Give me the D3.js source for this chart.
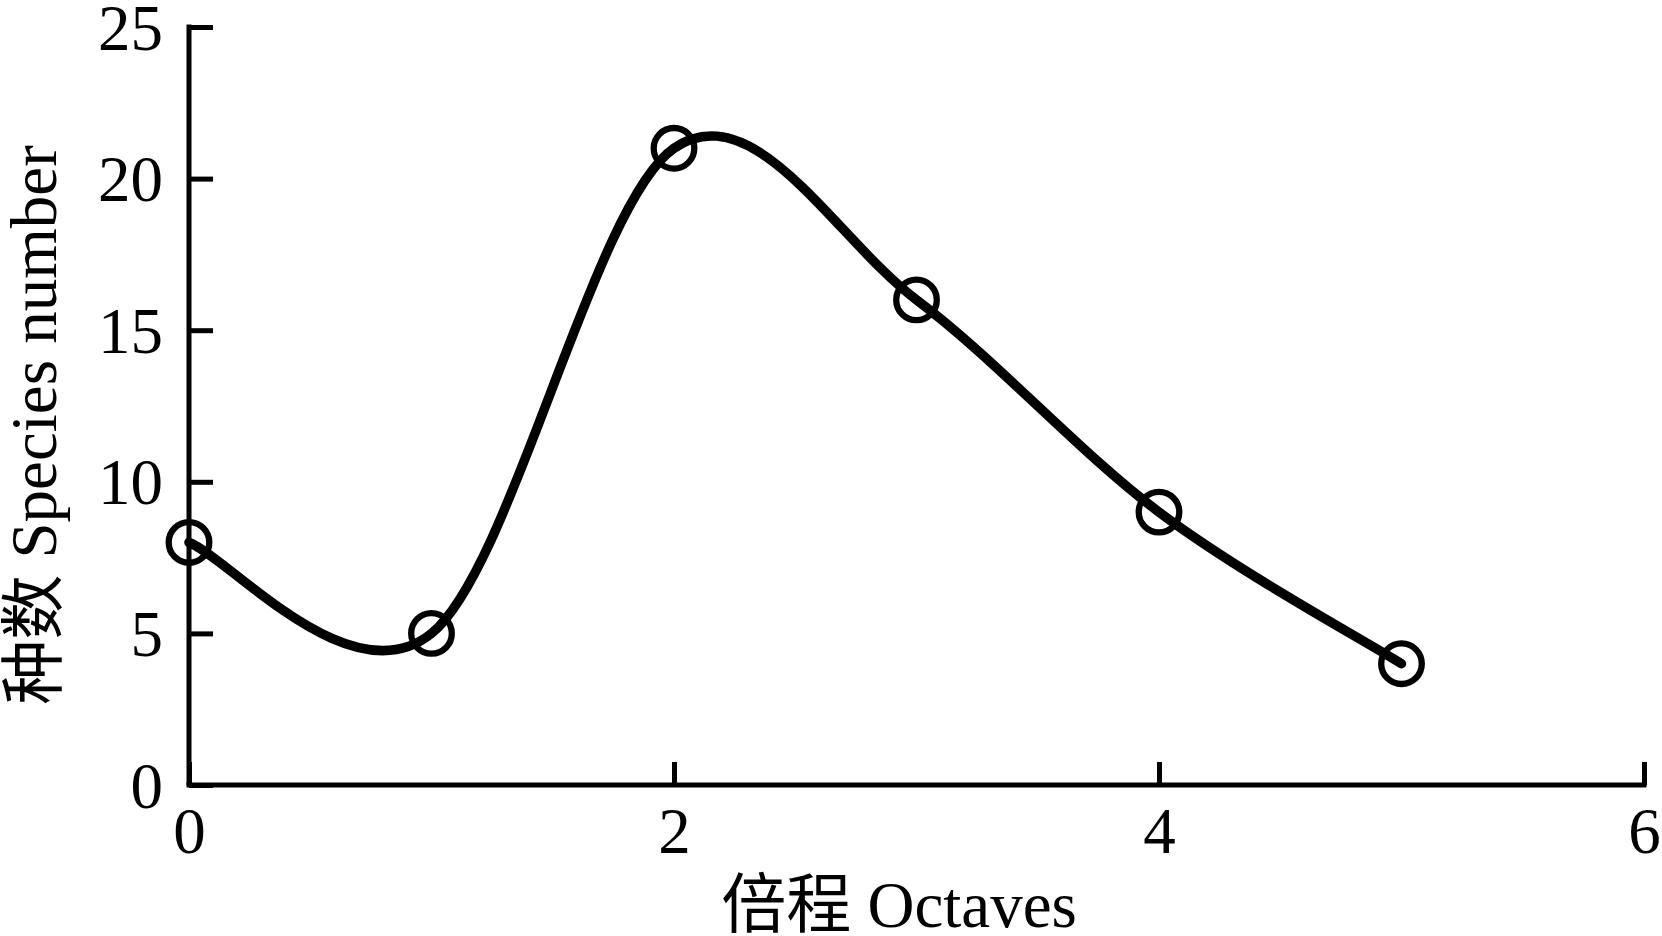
<!DOCTYPE html>
<html>
<head>
<meta charset="utf-8">
<script src="https://cdn.jsdelivr.net/npm/d3@7"></script>
<style>
  html, body { margin: 0; padding: 0; background: #fff; }
  svg { display: block; }
  text { font-family: "Liberation Serif", "Times New Roman", "Noto Sans CJK SC", serif; fill: #000; }
</style>
</head>
<body>
<svg id="chart" width="1662" height="936"></svg>
<script>
// Data
const octaves = [0, 1, 2, 3, 4, 5];
const speciesNumber = [8, 5, 21, 16, 9, 4];
const xTicks = [0, 2, 4, 6];
const yTicks = [0, 5, 10, 15, 20, 25];
const xTitle = "倍程 Octaves";
const yTitle = "种数 Species number";

const svg = d3.select("#chart");
const x = d3.scaleLinear().domain([0, 6]).range([189, 1644]);
const y = d3.scaleLinear().domain([0, 25]).range([785, 27]);

const axisW = 5;
const fs = 65;

// Smooth curve (Catmull-Rom with one-sided end tangents)
function curveSmooth(context) {
  let pts = [];
  return {
    areaStart() {}, areaEnd() {},
    lineStart() { pts = []; },
    point(px, py) { pts.push([+px, +py]); },
    lineEnd() {
      const n = pts.length;
      if (!n) return;
      context.moveTo(pts[0][0], pts[0][1]);
      if (n === 1) return;
      const m = pts.map((p, i) => {
        const a = pts[Math.max(0, i - 1)], b = pts[Math.min(n - 1, i + 1)];
        return [(b[0] - a[0]) / 2, (b[1] - a[1]) / 2];
      });
      for (let i = 0; i < n - 1; i++) {
        const p0 = pts[i], p1 = pts[i + 1];
        context.bezierCurveTo(
          p0[0] + m[i][0] / 3, p0[1] + m[i][1] / 3,
          p1[0] - m[i + 1][0] / 3, p1[1] - m[i + 1][1] / 3,
          p1[0], p1[1]);
      }
    }
  };
}

// Y axis
const yAxis = svg.append("g").attr("transform", `translate(${x(0)},0)`)
  .call(d3.axisRight(y).tickValues(yTicks).tickSize(24).tickSizeOuter(0).tickFormat(d3.format("d")));
yAxis.select(".domain").attr("stroke", "#000").attr("stroke-width", axisW)
  .attr("d", `M0,${y(25) - 2.5}V${y(0)}`);
yAxis.selectAll(".tick line").attr("stroke", "#000").attr("stroke-width", axisW);
yAxis.selectAll(".tick text")
  .attr("x", -26).attr("dy", "0.34em").attr("text-anchor", "end")
  .style("font-size", fs + "px").attr("fill", "#000");

// X axis
const xAxis = svg.append("g").attr("transform", `translate(0,${y(0)})`)
  .call(d3.axisTop(x).tickValues(xTicks).tickSize(23).tickSizeOuter(0).tickFormat(d3.format("d")));
xAxis.select(".domain").attr("stroke", "#000").attr("stroke-width", axisW)
  .attr("d", `M${x(0) - 2.5},0H${x(6) + 2.5}`);
xAxis.selectAll(".tick line").attr("stroke", "#000").attr("stroke-width", axisW);
xAxis.selectAll(".tick text")
  .attr("y", 68).attr("dy", 0).attr("text-anchor", "middle")
  .style("font-size", fs + "px").attr("fill", "#000");
svg.selectAll(".tick text").style("font-family", '"Liberation Serif", "Times New Roman", serif');

// Line
const pts = octaves.map((o, i) => [o, speciesNumber[i]]);
const line = d3.line().x(d => x(d[0])).y(d => y(d[1])).curve(curveSmooth);
svg.append("path").datum(pts)
  .attr("d", line)
  .attr("fill", "none").attr("stroke", "#000").attr("stroke-width", 9.5)
  .attr("stroke-linecap", "round").attr("stroke-linejoin", "round");

// Markers
svg.selectAll("circle.pt").data(pts).enter().append("circle")
  .attr("class", "pt")
  .attr("cx", d => x(d[0])).attr("cy", d => y(d[1]))
  .attr("r", 20.3)
  .attr("fill", "none").attr("stroke", "#000").attr("stroke-width", 6.3);

// Axis titles
svg.append("text").attr("x", 899).attr("y", 927).attr("text-anchor", "middle")
  .style("font-size", fs + "px").text(xTitle);
svg.append("text").attr("transform", "translate(56,425) rotate(-90)")
  .attr("text-anchor", "middle").style("font-size", fs + "px").text(yTitle);
</script>
</body>
</html>
